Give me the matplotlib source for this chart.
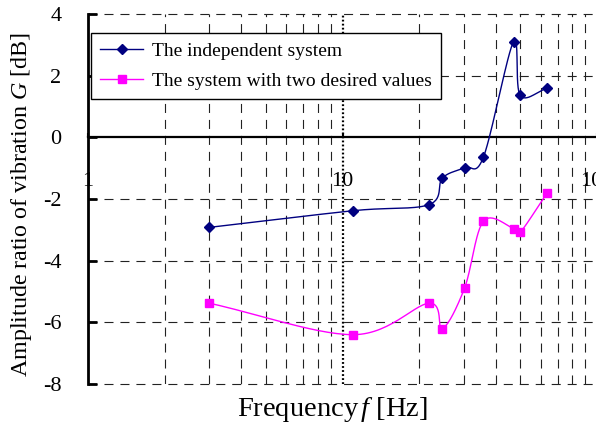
import numpy as np
import matplotlib
matplotlib.use("Agg")
import matplotlib.pyplot as plt
from matplotlib.ticker import FixedLocator, NullFormatter

plt.rcParams['font.family'] = ['Liberation Serif', 'DejaVu Serif']
plt.rcParams['mathtext.fontset'] = 'custom'
plt.rcParams['mathtext.it'] = 'Liberation Serif:italic'
plt.rcParams['mathtext.rm'] = 'Liberation Serif'
plt.rcParams['axes.unicode_minus'] = False
plt.rcParams['lines.scale_dashes'] = False

# frequency [Hz] of the measured points
freq = [3.0, 11.0, 21.9, 24.7, 30.2, 35.8, 47.0, 49.9, 63.5]
# amplitude ratio [dB]
g_independent = [-2.92, -2.38, -2.18, -1.32, -0.98, -0.64, 3.10, 1.36, 1.59]
g_two_desired = [-5.38, -6.40, -5.38, -6.20, -4.88, -2.72, -2.96, -3.08, -1.82]

label_independent = "The independent system"
label_two_desired = "The system with two desired values"


def smooth(x, y, n=30):
    # Catmull-Rom curve through the points in (log f, G) space
    lx = np.log10(x)
    y = np.asarray(y, float)
    px = np.concatenate([[2 * lx[0] - lx[1]], lx, [2 * lx[-1] - lx[-2]]])
    py = np.concatenate([[2 * y[0] - y[1]], y, [2 * y[-1] - y[-2]]])
    t = np.linspace(0, 1, n)
    xs, ys = [], []
    for i in range(1, len(px) - 2):
        for p, out in ((px, xs), (py, ys)):
            p0, p1, p2, p3 = p[i - 1], p[i], p[i + 1], p[i + 2]
            b1 = p1 + (p2 - p0) / 6
            b2 = p2 - (p3 - p1) / 6
            out.extend((1 - t) ** 3 * p1 + 3 * (1 - t) ** 2 * t * b1
                       + 3 * (1 - t) * t ** 2 * b2 + t ** 3 * p2)
    return 10 ** np.array(xs), np.array(ys)


fig = plt.figure(figsize=(5.96, 4.43), dpi=100)
ax = fig.add_axes([88 / 596, 1 - 384 / 443, 509 / 596, 370 / 443])

ax.set_xscale('log')
ax.set_xlim(1, 100)
ax.set_ylim(-8, 4)

# grid
for v in [2, 3, 4, 5, 6, 7, 8, 9, 20, 30, 40, 50, 60, 70, 80, 90]:
    ax.axvline(v, color='#222222', lw=0.8, dashes=(6.5, 5), zorder=1)
ax.axvline(10, color='black', lw=1.6, dashes=(1.3, 1.6), zorder=1)
for v in [-8, -6, -4, -2, 2, 4]:
    ax.axhline(v, color='#222222', lw=0.8, dashes=(6.5, 5), zorder=1,
               clip_on=False)

xs, ys = smooth(freq, g_independent)
ax.plot(xs, ys, color='#000080', lw=1.0, zorder=3)
ax.plot(freq, g_independent, ls='none', marker='D', ms=5.3, color='#000080', zorder=4)
xs, ys = smooth(freq, g_two_desired)
ax.plot(xs, ys, color='#FF00FF', lw=1.0, zorder=3)
ax.plot(freq, g_two_desired, ls='none', marker='s', ms=6.2, color='#FF00FF', zorder=4)

# proxy handles for the legend
h1, = ax.plot([], [], color='#000080', lw=1.0, marker='D', ms=5.3)
h2, = ax.plot([], [], color='#FF00FF', lw=1.0, marker='s', ms=6.2)

ax.spines['top'].set_visible(False)
ax.spines['right'].set_visible(False)
ax.spines['left'].set_linewidth(2)
ax.spines['left'].set_zorder(2)
ax.spines['bottom'].set_position(('data', 0))
ax.spines['bottom'].set_linewidth(1.6)
ax.spines['bottom'].set_zorder(2)

ax.set_yticks([-8, -6, -4, -2, 0, 2, 4])
ax.tick_params(axis='y', direction='in', length=6.5, width=2, pad=19, labelsize=16)
ax.xaxis.set_major_locator(FixedLocator([1, 10, 100]))
ax.set_xticklabels(['1', '10', '100'])
ax.xaxis.set_minor_formatter(NullFormatter())
ax.tick_params(axis='x', which='major', direction='in', length=3, width=1.5,
               pad=25, labelsize=16)
ax.tick_params(axis='x', which='minor', length=0)
for lab in ax.get_xticklabels():
    lab.set_clip_on(False)

leg = fig.legend([h1, h2], [label_independent, label_two_desired],
                 loc='upper left', bbox_to_anchor=(91 / 596, 1 - 33 / 443),
                 fontsize=14, frameon=True, fancybox=False, edgecolor='black',
                 framealpha=1, borderaxespad=0, handlelength=2.2,
                 handletextpad=0.45, labelspacing=0.62, borderpad=0.48)
leg.get_frame().set_linewidth(1.0)

fig.text(332 / 596, 1 - 410 / 443, r'Frequency$\,f$ [Hz]', fontsize=20.5,
         ha='center', va='center')
fig.text(22 / 596, 1 - 205 / 443, r'Amplitude ratio of vibration $G$ [dB]',
         fontsize=17.3, ha='center', va='center', rotation=90)

fig.savefig('out.png', dpi=100)
